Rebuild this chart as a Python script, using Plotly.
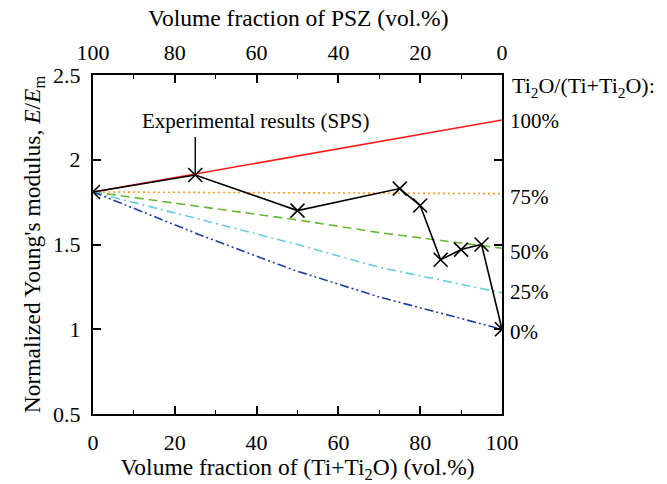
import plotly.graph_objects as go

# Experimental results (SPS)
exp_x = [0, 25, 50, 75, 80, 85, 90, 95, 100]
exp_y = [1.81, 1.91, 1.70, 1.83, 1.73, 1.41, 1.47, 1.50, 1.00]

# Model curves for Ti2O/(Ti+Ti2O) fractions
m100_x = [0, 100]
m100_y = [1.81, 2.235]
m75_x = [0, 100]
m75_y = [1.81, 1.80]
m50_x = [0, 50, 70, 100]
m50_y = [1.81, 1.645, 1.57, 1.478]
m25_x = [0, 25, 50, 70, 100]
m25_y = [1.81, 1.655, 1.50, 1.365, 1.215]
m0_x = [0, 26, 49, 70, 100]
m0_y = [1.81, 1.558, 1.35, 1.19, 1.00]

right_labels = ["100%", "75%", "50%", "25%", "0%"]
right_label_y = [2.23, 1.78, 1.456, 1.22, 0.985]

x_ticks = [0, 20, 40, 60, 80, 100]
top_ticks = [100, 80, 60, 40, 20, 0]
y_ticks = [0.5, 1, 1.5, 2, 2.5]

FONT = "Liberation Serif"
fs_tick = 22
fs_title = 23.5
fs_ann = 21

fig = go.Figure()

lw = 1.6
fig.add_trace(go.Scatter(x=m100_x, y=m100_y, mode="lines",
                         line=dict(color="#ff1a1a", width=lw), showlegend=False))
fig.add_trace(go.Scatter(x=m75_x, y=m75_y, mode="lines",
                         line=dict(color="#ff9a1a", width=lw, dash="2px,3px"), showlegend=False))
fig.add_trace(go.Scatter(x=m50_x, y=m50_y, mode="lines",
                         line=dict(color="#66b832", width=lw, dash="9px,5px"), showlegend=False))
fig.add_trace(go.Scatter(x=m25_x, y=m25_y, mode="lines",
                         line=dict(color="#66ccdd", width=lw, dash="9px,4px,2px,4px"), showlegend=False))
fig.add_trace(go.Scatter(x=m0_x, y=m0_y, mode="lines",
                         line=dict(color="#1f3f9f", width=lw, dash="9px,3px,2px,3px,2px,3px"), showlegend=False))
fig.add_trace(go.Scatter(x=exp_x, y=exp_y, mode="lines+markers",
                         line=dict(color="black", width=1.6),
                         marker=dict(symbol="x-thin", size=14, color="black",
                                     line=dict(color="black", width=1.6)),
                         showlegend=False))
# dummy trace for top axis
fig.add_trace(go.Scatter(x=top_ticks, y=[None] * len(top_ticks), xaxis="x2",
                         mode="lines", showlegend=False, hoverinfo="skip"))

annotations = [
    dict(text="Experimental results (SPS)", x=11.5, y=2.229, xref="x", yref="y",
         xanchor="left", yanchor="middle", showarrow=False,
         font=dict(family=FONT, size=fs_ann, color="black")),
    dict(text="Ti<sub>2</sub>O/(Ti+Ti<sub>2</sub>O):", x=1.02, y=2.43, xref="paper", yref="y",
         xanchor="left", yanchor="middle", showarrow=False,
         font=dict(family=FONT, size=22, color="black")),
    dict(text="Volume fraction of PSZ (vol.%)", x=0.5, y=1.168, xref="paper", yref="paper",
         xanchor="center", yanchor="middle", showarrow=False,
         font=dict(family=FONT, size=fs_title, color="black")),
]
for lab, yy in zip(right_labels, right_label_y):
    annotations.append(dict(text=lab, x=1.014, y=yy, xref="paper", yref="y",
                            xanchor="left", yanchor="middle", showarrow=False,
                            font=dict(family=FONT, size=fs_ann, color="black")))

fig.update_layout(
    width=667, height=484,
    margin=dict(l=93, r=165, t=75, b=70),
    paper_bgcolor="white", plot_bgcolor="white",
    font=dict(family=FONT, size=fs_tick, color="black"),
    annotations=annotations,
    shapes=[dict(type="line", xref="x", yref="y", x0=25, x1=25, y0=2.134, y1=1.92,
                 line=dict(color="black", width=1.4))],
    xaxis=dict(range=[0, 100], tickvals=x_ticks, ticks="inside", ticklen=8, tickwidth=1.5,
               tickcolor="black", showline=True, linecolor="black", linewidth=2,
               mirror=True, showgrid=False, zeroline=False, ticklabelstandoff=8,
               minor=dict(dtick=10, ticks="inside", ticklen=4, tickwidth=1, tickcolor="black"),
               tickfont=dict(family=FONT, size=fs_tick),
               title=dict(text="Volume fraction of (Ti+Ti<sub>2</sub>O) (vol.%)",
                          font=dict(family=FONT, size=fs_title), standoff=0)),
    xaxis2=dict(range=[100, 0], overlaying="x", side="top", tickvals=top_ticks,
                ticks="inside", ticklen=8, tickwidth=1.5, tickcolor="black",
                showline=False, showgrid=False, zeroline=False, ticklabelstandoff=10,
                minor=dict(dtick=10, ticks="inside", ticklen=4, tickwidth=1, tickcolor="black"),
                tickfont=dict(family=FONT, size=fs_tick)),
    yaxis=dict(range=[0.5, 2.5], tickvals=y_ticks, ticktext=["0.5", "1", "1.5", "2", "2.5"],
               ticks="inside", ticklen=8, tickwidth=1.5, tickcolor="black",
               showline=True, linecolor="black", linewidth=2, mirror="ticks",
               showgrid=False, zeroline=False, ticklabelstandoff=6,
               tickfont=dict(family=FONT, size=fs_tick),
               title=dict(text="Normalized Young's modulus, <i>E</i>/<i>E</i><sub>m</sub>",
                          font=dict(family=FONT, size=fs_title), standoff=6)),
)

fig.write_html("out.html")
